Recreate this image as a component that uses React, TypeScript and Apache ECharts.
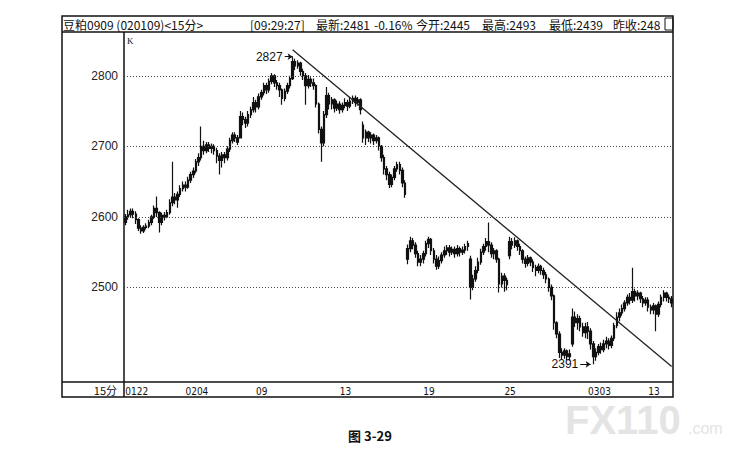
import React, { useEffect, useRef } from 'react';
import * as echarts from 'echarts';

// 15分钟K线，每根 [开, 收, 低, 高]
const rallyBars = [
  [2592, 2600, 2588, 2604], [2600, 2603, 2596, 2610], [2603, 2608, 2600, 2612], [2608, 2604, 2598, 2612],
  [2604, 2596, 2590, 2608], [2596, 2584, 2580, 2598], [2584, 2580, 2576, 2588], [2580, 2585, 2577, 2588],
  [2585, 2587, 2582, 2591], [2587, 2592, 2584, 2596], [2592, 2600, 2588, 2603], [2600, 2612, 2597, 2616],
  [2612, 2606, 2600, 2629], [2606, 2592, 2578, 2608], [2592, 2602, 2588, 2606], [2602, 2600, 2595, 2607],
  [2600, 2606, 2598, 2610], [2606, 2620, 2603, 2625], [2620, 2628, 2615, 2678], [2628, 2624, 2618, 2634],
  [2624, 2632, 2613, 2636], [2632, 2640, 2628, 2645], [2640, 2645, 2636, 2650], [2645, 2642, 2636, 2650],
  [2642, 2652, 2640, 2657], [2652, 2660, 2648, 2664], [2660, 2665, 2655, 2670], [2665, 2678, 2662, 2682],
  [2678, 2684, 2672, 2690], [2684, 2700, 2680, 2728], [2700, 2694, 2688, 2708], [2694, 2702, 2690, 2706],
  [2702, 2697, 2692, 2706], [2697, 2700, 2690, 2704], [2700, 2694, 2688, 2703], [2694, 2686, 2676, 2698],
  [2686, 2680, 2660, 2690], [2680, 2688, 2670, 2692], [2688, 2684, 2676, 2692], [2684, 2696, 2680, 2700],
  [2696, 2708, 2692, 2712], [2708, 2716, 2704, 2720], [2716, 2712, 2706, 2720], [2712, 2706, 2702, 2716],
  [2712, 2742, 2712, 2750], [2742, 2738, 2730, 2748], [2738, 2733, 2726, 2742], [2733, 2745, 2728, 2750],
  [2745, 2752, 2740, 2756], [2752, 2762, 2748, 2770], [2762, 2756, 2748, 2766], [2756, 2770, 2752, 2775],
  [2770, 2776, 2766, 2780], [2776, 2786, 2772, 2790], [2786, 2780, 2774, 2790], [2780, 2792, 2776, 2796],
  [2792, 2800, 2788, 2804], [2800, 2790, 2784, 2802], [2790, 2786, 2780, 2794], [2786, 2780, 2770, 2790],
  [2780, 2768, 2759, 2782], [2768, 2778, 2764, 2782], [2778, 2786, 2774, 2790], [2786, 2796, 2782, 2800],
  [2796, 2820, 2794, 2827], [2820, 2814, 2808, 2824], [2814, 2818, 2810, 2822], [2818, 2806, 2800, 2820],
  [2806, 2800, 2794, 2810], [2800, 2786, 2759, 2804],
];

const topBars = [
  [2786, 2795, 2782, 2801], [2795, 2790, 2784, 2798], [2790, 2786, 2780, 2796], [2786, 2760, 2755, 2788],
  [2760, 2724, 2718, 2762], [2724, 2705, 2678, 2728], [2705, 2745, 2700, 2750], [2745, 2772, 2740, 2784],
  [2772, 2760, 2752, 2776], [2760, 2766, 2752, 2770], [2766, 2754, 2748, 2768], [2754, 2760, 2750, 2765],
  [2760, 2752, 2746, 2764], [2752, 2758, 2748, 2762], [2758, 2762, 2754, 2768], [2762, 2757, 2750, 2766],
  [2757, 2764, 2754, 2770], [2764, 2768, 2760, 2772], [2768, 2762, 2756, 2772], [2762, 2766, 2758, 2770],
  [2766, 2752, 2745, 2768], [2730, 2712, 2705, 2735], [2712, 2720, 2702, 2724], [2720, 2712, 2706, 2722],
  [2712, 2716, 2704, 2720], [2716, 2708, 2702, 2718], [2708, 2712, 2704, 2716], [2712, 2700, 2694, 2714],
  [2700, 2684, 2678, 2702], [2684, 2668, 2660, 2688], [2668, 2660, 2652, 2672], [2660, 2646, 2641, 2664],
  [2646, 2656, 2642, 2660], [2656, 2668, 2652, 2672], [2668, 2674, 2664, 2678], [2674, 2666, 2660, 2678],
  [2666, 2648, 2642, 2670], [2648, 2632, 2627, 2652],
];

const middleBars = [
  [2540, 2555, 2533, 2561], [2555, 2566, 2550, 2572], [2566, 2560, 2554, 2570], [2560, 2548, 2542, 2564],
  [2548, 2536, 2530, 2552], [2536, 2540, 2530, 2546], [2540, 2548, 2534, 2552], [2548, 2562, 2544, 2566],
  [2562, 2568, 2556, 2572], [2568, 2552, 2546, 2570], [2552, 2540, 2534, 2556], [2540, 2530, 2525, 2546],
  [2530, 2538, 2526, 2544], [2538, 2546, 2534, 2550], [2546, 2552, 2542, 2558], [2552, 2556, 2546, 2560],
  [2556, 2550, 2544, 2560], [2550, 2554, 2546, 2558], [2554, 2548, 2542, 2558], [2548, 2555, 2544, 2560],
  [2555, 2550, 2544, 2558], [2550, 2553, 2546, 2558], [2553, 2558, 2548, 2562], [2558, 2562, 2552, 2566],
  [2540, 2500, 2483, 2545], [2500, 2512, 2496, 2518], [2512, 2524, 2508, 2530], [2524, 2536, 2520, 2542],
  [2536, 2550, 2532, 2555], [2550, 2558, 2546, 2562], [2558, 2565, 2552, 2570], [2565, 2560, 2550, 2592],
  [2560, 2548, 2542, 2564], [2548, 2552, 2540, 2556], [2552, 2540, 2535, 2554], [2540, 2505, 2493, 2542],
  [2505, 2516, 2500, 2521], [2516, 2510, 2494, 2520], [2510, 2504, 2496, 2514], [2545, 2565, 2540, 2572],
  [2565, 2560, 2554, 2570], [2560, 2566, 2556, 2571], [2566, 2558, 2552, 2568], [2558, 2552, 2546, 2562],
  [2552, 2540, 2534, 2554], [2540, 2534, 2528, 2544], [2534, 2542, 2530, 2546], [2542, 2536, 2530, 2544],
  [2536, 2528, 2522, 2540], [2528, 2524, 2516, 2532], [2524, 2530, 2520, 2534], [2530, 2524, 2518, 2532],
  [2524, 2518, 2512, 2528], [2518, 2512, 2506, 2522], [2512, 2500, 2494, 2514], [2500, 2488, 2482, 2504],
  [2488, 2450, 2440, 2490], [2450, 2434, 2428, 2452], [2434, 2408, 2400, 2438], [2408, 2404, 2398, 2414],
  [2404, 2410, 2399, 2414], [2410, 2402, 2397, 2412], [2402, 2406, 2396, 2412],
];

const bottomBars = [
  [2420, 2458, 2416, 2470], [2458, 2450, 2444, 2466], [2450, 2456, 2440, 2462], [2456, 2444, 2438, 2460],
  [2444, 2436, 2430, 2450], [2436, 2444, 2428, 2450], [2444, 2438, 2427, 2451], [2438, 2420, 2412, 2442],
  [2420, 2402, 2391, 2424], [2402, 2408, 2396, 2414], [2408, 2416, 2404, 2420], [2416, 2412, 2406, 2422],
  [2412, 2420, 2408, 2426], [2420, 2424, 2414, 2430], [2424, 2418, 2412, 2428], [2418, 2428, 2414, 2432],
  [2428, 2446, 2424, 2450], [2446, 2458, 2442, 2465], [2458, 2464, 2452, 2470], [2464, 2470, 2460, 2476],
  [2470, 2478, 2466, 2482], [2478, 2486, 2474, 2490], [2486, 2482, 2476, 2492], [2482, 2494, 2478, 2528],
  [2494, 2488, 2480, 2498], [2488, 2492, 2482, 2496], [2492, 2484, 2478, 2494], [2484, 2478, 2472, 2488],
  [2478, 2482, 2474, 2486], [2482, 2472, 2466, 2486], [2472, 2468, 2462, 2476], [2468, 2474, 2462, 2478],
  [2474, 2462, 2438, 2476], [2462, 2476, 2458, 2480], [2476, 2486, 2472, 2490], [2486, 2492, 2480, 2496],
  [2492, 2486, 2480, 2494], [2486, 2484, 2478, 2490], [2484, 2478, 2472, 2488],
];

// 底部日期刻度
const tickIndex = [0, 23, 50, 82, 114, 145, 177, 200];
const tickLabels = ['0122', '0204', '09', '13', '19', '25', '0303', '13'];
const priceLabels = [2500, 2600, 2700, 2800];

// 下降趋势线、高低点标注及其箭头
const trendLine = [[64, 2837], [209, 2388]];
const peakMark = [64, 2827];
const lowMark = [179, 2391];
const peakArrow = [[60.7, 2827], [63.6, 2827]];
const lowArrow = [[173.6, 2391], [178.4, 2391]];

const CJK = '"Noto Sans CJK SC", sans-serif';

function App() {
  const chartRef = useRef<HTMLDivElement>(null);

  useEffect(() => {
    if (!chartRef.current) return;
    const chart = echarts.init(chartRef.current, null, { renderer: 'svg' });

    const bars = [...rallyBars, ...topBars, ...middleBars, ...bottomBars];
    const categories = bars.map((_, i) => String(i));
    const labelOf = new Map<number, string>();
    tickIndex.forEach((idx, k) => labelOf.set(idx, tickLabels[k]));

    const headText = (text: string, x: number) => ({
      type: 'text',
      x,
      y: 24,
      style: { text, fill: '#111', font: '12px ' + CJK, textVerticalAlign: 'middle' },
    });

    const arrowLine = (seg: number[][]) => [
      { coord: seg[0], symbol: 'none', lineStyle: { width: 1, color: '#111', type: 'solid' } },
      { coord: seg[1], symbol: 'arrow', symbolSize: 5 },
    ];

    const option = {
      animation: false,
      backgroundColor: '#fff',
      grid: { left: 124, right: 74, top: 32, bottom: 71 },
      xAxis: {
        type: 'category',
        data: categories,
        boundaryGap: true,
        axisLine: { show: false },
        axisTick: { show: false },
        splitLine: { show: false },
        axisLabel: {
          interval: (i: number) => labelOf.has(i),
          formatter: (_v: string, i: number) => labelOf.get(i) ?? '',
          align: 'left',
          margin: 4,
          fontSize: 10,
          color: '#111',
          fontFamily: '"Liberation Sans Narrow", "DejaVu Sans Condensed", sans-serif',
        },
      },
      yAxis: {
        type: 'value',
        min: 2366,
        max: 2862,
        axisLine: { show: false },
        axisTick: { show: false },
        splitLine: { show: false },
        axisLabel: {
          customValues: priceLabels,
          formatter: (v: number) => String(v),
          fontSize: 12,
          color: '#222',
          margin: 6,
          fontFamily: '"Liberation Sans", sans-serif',
        },
      },
      series: [
        {
          type: 'candlestick',
          data: bars,
          barWidth: 2,
          itemStyle: {
            color: '#111',
            color0: '#111',
            borderColor: '#111',
            borderColor0: '#111',
            borderWidth: 1.2,
          },
          markLine: {
            silent: true,
            symbol: ['none', 'none'],
            label: { show: false },
            lineStyle: { color: '#222', width: 1.3, type: 'solid' },
            data: [
              ...priceLabels.map((v) => ({
                yAxis: v,
                lineStyle: { color: '#444', width: 1, type: [1, 2] },
              })),
              [{ coord: trendLine[0] }, { coord: trendLine[1] }],
              arrowLine(peakArrow),
              arrowLine(lowArrow),
            ],
          },
          markPoint: {
            silent: true,
            symbol: 'circle',
            symbolSize: 0,
            label: {
              show: true,
              position: 'left',
              color: '#111',
              fontSize: 12,
              fontFamily: '"Liberation Sans", sans-serif',
            },
            data: [
              { coord: peakMark, value: peakMark[1], label: { distance: 10 } },
              { coord: lowMark, value: lowMark[1], label: { distance: 15 } },
            ],
          },
        },
      ],
      graphic: [
        {
          type: 'text',
          x: 565,
          y: 420,
          z: -10,
          style: {
            text: 'FX110',
            fill: '#e4e4e4',
            font: 'bold 40px "Liberation Sans", sans-serif',
            textVerticalAlign: 'middle',
          },
        },
        {
          type: 'text',
          x: 688,
          y: 428,
          z: -10,
          style: { text: '.com', fill: '#e4e4e4', font: '16px "Liberation Sans", sans-serif', textVerticalAlign: 'middle' },
        },
        {
          type: 'rect',
          shape: { x: 62, y: 16, width: 611, height: 381 },
          style: { fill: 'none', stroke: '#111', lineWidth: 1.5 },
        },
        { type: 'line', shape: { x1: 62, y1: 32, x2: 673, y2: 32 }, style: { stroke: '#111', lineWidth: 1.5 } },
        { type: 'line', shape: { x1: 124, y1: 32, x2: 124, y2: 397 }, style: { stroke: '#111', lineWidth: 1.5 } },
        { type: 'line', shape: { x1: 62, y1: 382, x2: 673, y2: 382 }, style: { stroke: '#111', lineWidth: 1.5 } },
        headText('豆粕0909 (020109)<15分>', 63),
        headText('[09:29:27]', 250),
        headText('最新:2481', 316),
        headText('-0.16%', 374),
        headText('今开:2445', 416),
        headText('最高:2493', 482),
        headText('最低:2439', 549),
        headText('昨收:248', 613),
        {
          type: 'rect',
          shape: { x: 665, y: 18, width: 8, height: 12 },
          style: { fill: 'none', stroke: '#111', lineWidth: 1 },
        },
        {
          type: 'text',
          x: 127,
          y: 41,
          style: { text: 'K', fill: '#111', font: '9px "Liberation Serif", serif', textVerticalAlign: 'middle' },
        },
        {
          type: 'text',
          x: 117,
          y: 390,
          style: { text: '15分', fill: '#111', font: '11px ' + CJK, textAlign: 'right', textVerticalAlign: 'middle' },
        },
        {
          type: 'text',
          x: 370,
          y: 435,
          style: { text: '图 3-29', fill: '#111', font: 'bold 13px ' + CJK, textAlign: 'center', textVerticalAlign: 'middle' },
        },
      ],
    };

    chart.setOption(option as any);

    return () => {
      chart.dispose();
    };
  }, []);

  return (
    <div
      ref={chartRef}
      style={{ position: 'fixed', left: 0, top: 0, width: '747px', height: '453px', background: '#fff' }}
    />
  );
}

export default App;
